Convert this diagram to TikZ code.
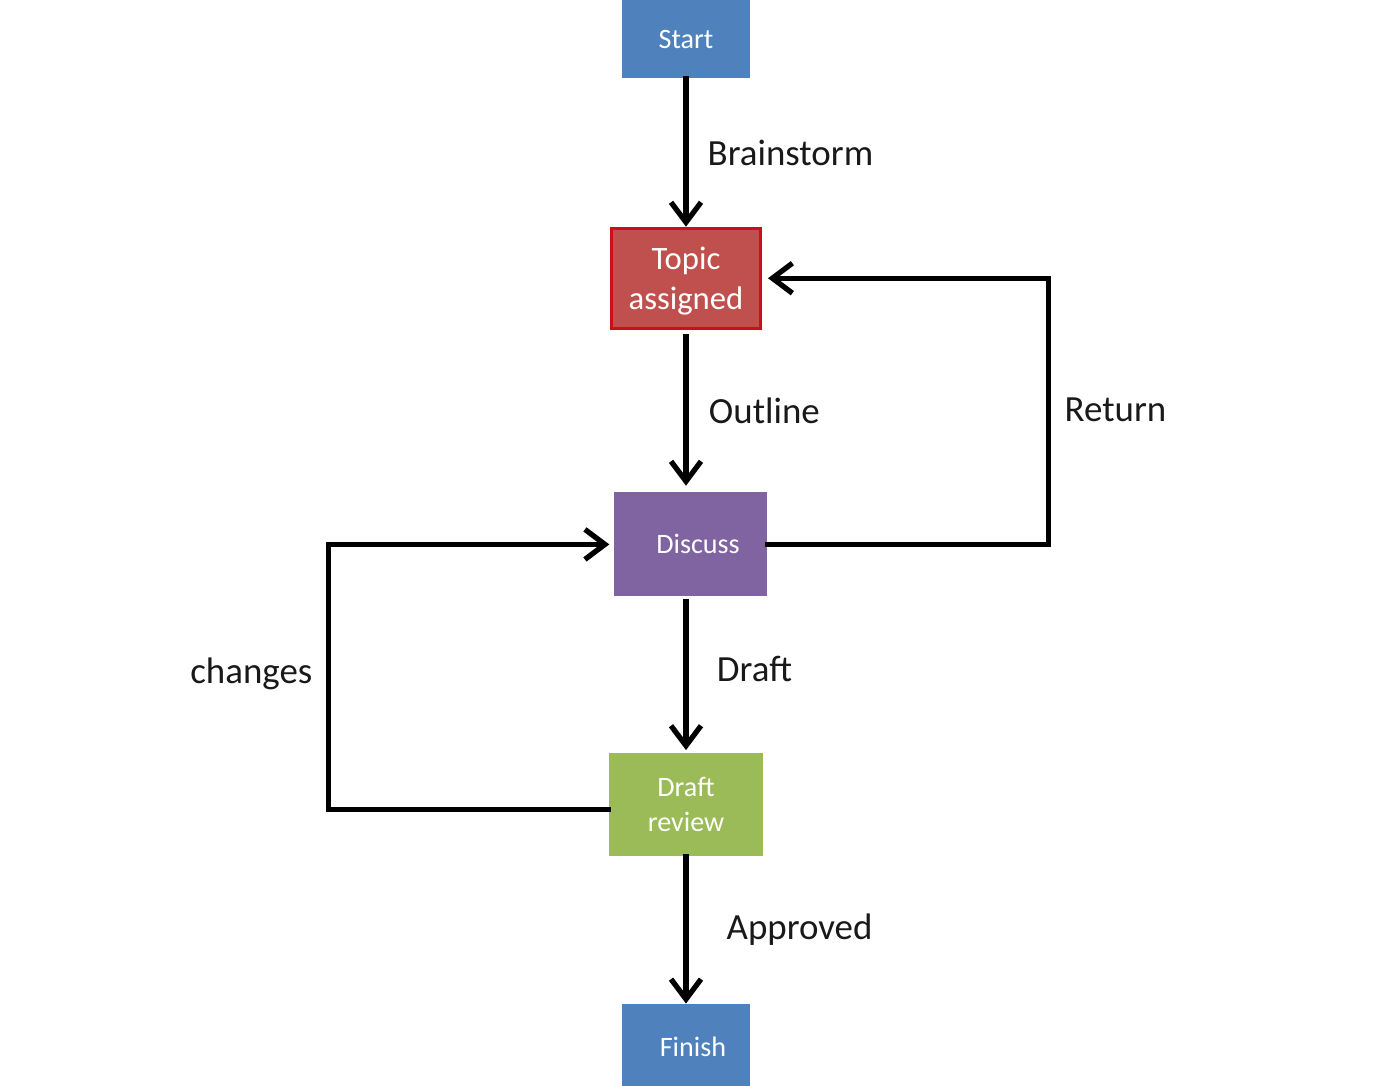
\documentclass[tikz,border=0pt]{standalone}
\usepackage{fontspec}
\setmainfont{Carlito}
\usepackage{tikz}
\usetikzlibrary{arrows.meta,calc,positioning}
\definecolor{startblue}{RGB}{79,129,189}
\definecolor{topicred}{RGB}{192,80,77}
\definecolor{topicedge}{RGB}{200,16,22}
\definecolor{discusspurple}{RGB}{128,100,162}
\definecolor{reviewgreen}{RGB}{155,187,89}

\begin{document}
\begin{tikzpicture}[
    font=\fontsize{8pt}{10pt}\selectfont,
    stage/.style={align=center, text=white, inner sep=0pt},
    ends/.style={stage, fill=startblue, minimum width=1.28cm, minimum height=0.78cm},
    topicbox/.style={stage, fill=topicred, draw=topicedge, line width=0.03cm,
      minimum width=1.49cm, minimum height=1.0cm, text depth=0pt,
      font=\fontsize{9.3pt}{11.4pt}\selectfont},
    discussbox/.style={stage, fill=discusspurple, minimum width=1.53cm, minimum height=1.04cm},
    reviewbox/.style={stage, fill=reviewgreen, minimum width=1.54cm, minimum height=1.03cm},
    lbl/.style={font=\fontsize{10.5pt}{12pt}\selectfont, text=black!90, inner sep=0pt},
    arrow/.style={-{Straight Barb[length=2mm,width=3mm]}, line width=1.5pt, line cap=rect}
  ]
    \useasboundingbox (0,0) rectangle (13.77,-10.85);

    \node[ends] (start) at (6.86,-0.39) {Start};
    \node[topicbox, below=1.48cm of start] (topic) {Topic\\assigned};
    \node[discussbox, below=1.62cm of topic, xshift=0.045cm] (discuss) {\hspace*{0.15cm}Discuss};
    \node[reviewbox, below=1.55cm of discuss, xshift=-0.045cm] (review) {Draft\\review};
    \node[ends, below=1.47cm of review, minimum height=0.86cm] (finish) {\hspace*{0.14cm}Finish};

    \draw[arrow] (start) -- (topic);
    \draw[arrow, shorten <=0.07cm, shorten >=0.06cm] (topic.south) -- (topic.south |- discuss.north);
    \draw[arrow, shorten <=0.05cm, shorten >=0.02cm] (review.north |- discuss.south) -- (review.north);
    \draw[arrow] (review) -- (finish);
    \draw[arrow, shorten >=0.06cm] (discuss.east) -- ++(2.81,0) |- (topic.east);
    \draw[arrow, shorten >=0.04cm] (review.west) ++(0,-0.05) -- ++(-2.8,0) |- (discuss.west);

    \node[lbl, anchor=west] (brainlbl) at ($(start.south)!0.5!(topic.north)+(0.21,0)$) {Brainstorm};
    \node[lbl, anchor=west] (outlinelbl) at ($(topic.south)!0.5!(discuss.north)+(0.2,0)$) {Outline};
    \node[lbl, anchor=west] (draftlbl) at ($(discuss.south)!0.5!(review.north)+(0.28,0.06)$) {Draft};
    \node[lbl, anchor=west] (approvedlbl) at ($(review.south)!0.5!(finish.north)+(0.4,0)$) {Approved};
    \node[lbl, anchor=west] (returnlbl) at (10.64,-4.1) {Return};
    \node[lbl, anchor=east] (changeslbl) at (3.13,-6.74) {changes};
  \end{tikzpicture}
\end{document}
